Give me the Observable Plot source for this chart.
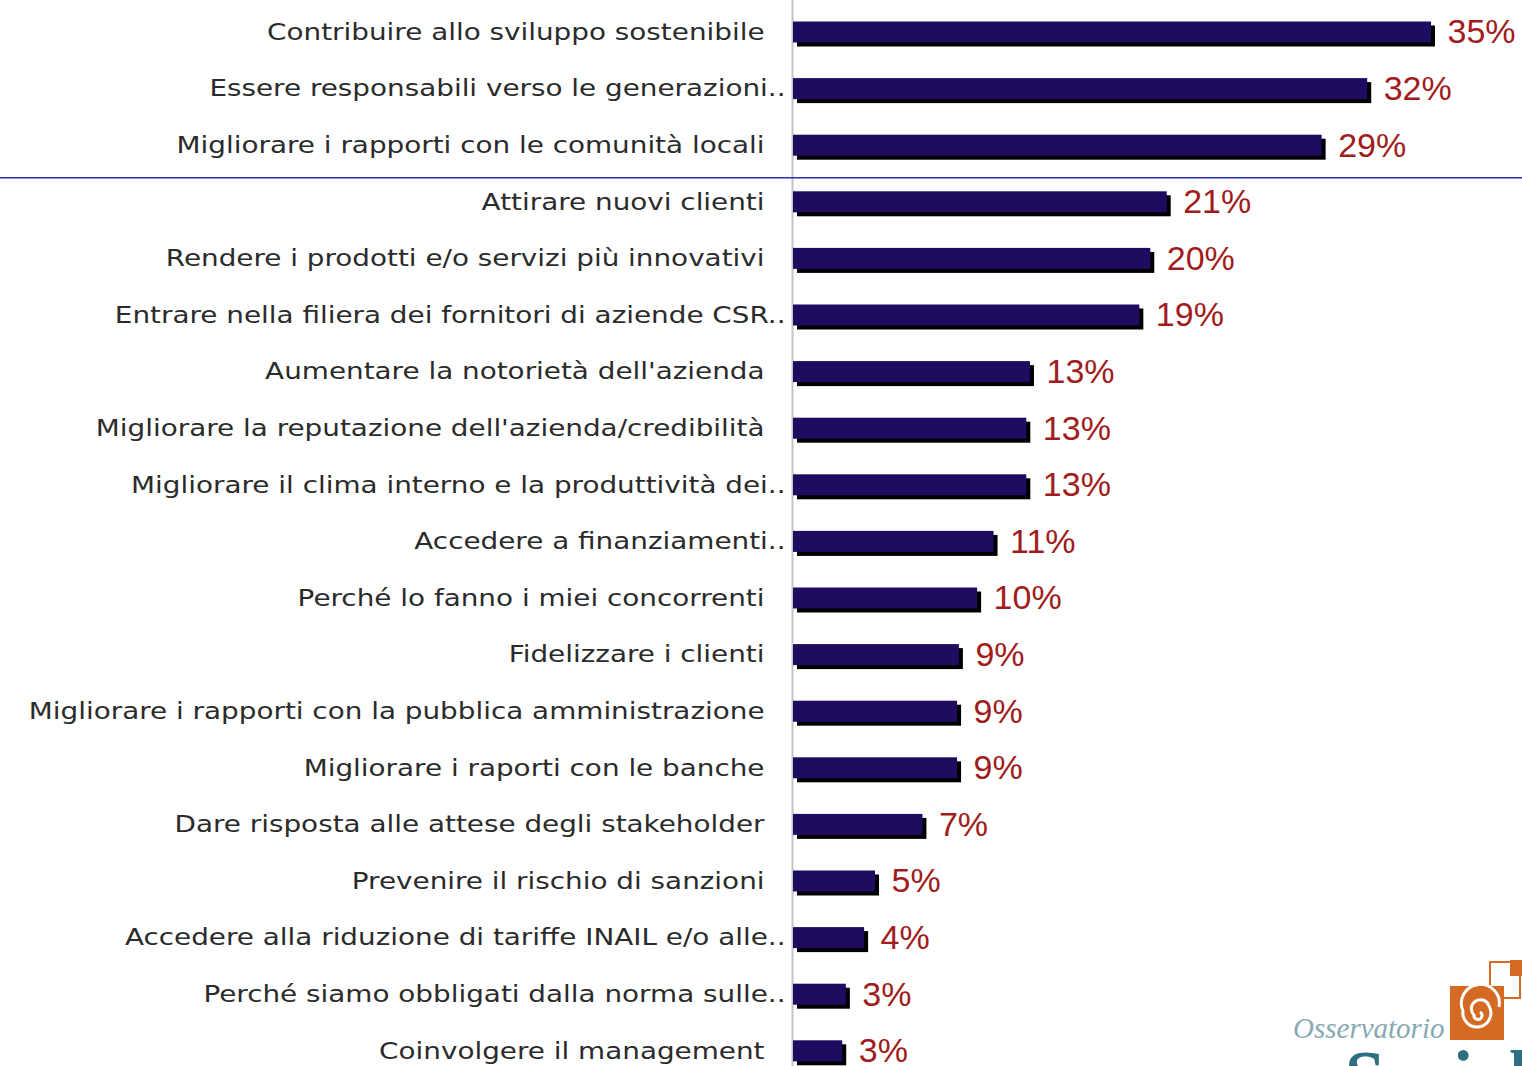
<!DOCTYPE html>
<html>
<head>
<meta charset="utf-8">
<script src="https://cdn.jsdelivr.net/npm/d3@7"></script>
<script src="https://cdn.jsdelivr.net/npm/@observablehq/plot@0.6"></script>
<style>
  html, body { margin: 0; padding: 0; background: #fff; overflow: hidden; }
  #wrap { position: relative; width: 1522px; height: 1066px; overflow: hidden; }
  #logo { position: absolute; left: 0; top: 0; pointer-events: none; }
</style>
</head>
<body>
<div id="wrap">
  <div id="chart"></div>
  <svg id="logo" width="1522" height="1066" xmlns="http://www.w3.org/2000/svg">
    <text x="1293" y="1038" font-family="Liberation Serif, DejaVu Serif, serif" font-style="italic" font-size="29" fill="#86a9b3">Osservatorio</text>
    <rect x="1490" y="962" width="30" height="36" fill="none" stroke="#d56a24" stroke-width="2"/>
    <rect x="1510" y="960" width="14" height="16" fill="#d56a24"/>
    <rect x="1450" y="986" width="54" height="54" fill="#d56a24"/>
    <path d="M1480,1012 a4,4 0 1,1 -6,3 a9,9 0 1,1 15,-9 a14,14 0 1,1 -26,5 a19,19 0 1,1 36,-4" fill="none" stroke="#fff" stroke-width="3"/>
    <text x="1345" y="1100" font-family="Liberation Serif, DejaVu Serif, serif" font-weight="bold" font-size="72" fill="#2d6e80">Social</text>
  </svg>
</div>
<script>
const categories = [
  "Contribuire allo sviluppo sostenibile",
  "Essere responsabili verso le generazioni..",
  "Migliorare i rapporti con le comunità locali",
  "Attirare nuovi clienti",
  "Rendere i prodotti e/o servizi più innovativi",
  "Entrare nella filiera dei fornitori di aziende CSR..",
  "Aumentare la notorietà dell'azienda",
  "Migliorare la reputazione dell'azienda/credibilità",
  "Migliorare il clima interno e la produttività dei..",
  "Accedere a finanziamenti..",
  "Perché lo fanno i miei concorrenti",
  "Fidelizzare i clienti",
  "Migliorare i rapporti con la pubblica amministrazione",
  "Migliorare i raporti con le banche",
  "Dare risposta alle attese degli stakeholder",
  "Prevenire il rischio di sanzioni",
  "Accedere alla riduzione di tariffe INAIL e/o alle..",
  "Perché siamo obbligati dalla norma sulle..",
  "Coinvolgere il management"
];
const values = [35.0, 31.5, 29.0, 20.5, 19.6, 19.0, 13.0, 12.8, 12.8, 11.0, 10.1, 9.1, 9.0, 9.0, 7.1, 4.5, 3.9, 2.9, 2.7];
const valueLabels = ["35%", "32%", "29%", "21%", "20%", "19%", "13%", "13%", "13%", "11%", "10%", "9%", "9%", "9%", "7%", "5%", "4%", "3%", "3%"];

const data = categories.map((c, i) => ({label: c, value: values[i], pct: valueLabels[i], trunc: c.endsWith("..")}));

const step = 56.6;
const y0 = 32 - step / 2;
const inset = (step - 21) / 2;
const labelFont = "DejaVu Sans, sans-serif";

const chart = Plot.plot({
  width: 1522,
  height: 1066,
  margin: 0,
  x: {domain: [0, 35], range: [793, 1431], axis: null},
  y: {domain: categories, range: [y0, y0 + step * categories.length], padding: 0, round: false, axis: null},
  style: {background: "#fff"},
  marks: [
    Plot.ruleX([0], {stroke: "#c4c4c4", strokeWidth: 2, dx: -1}),
    Plot.ruleY([categories[3]], {stroke: "#2c2cb0", strokeWidth: 1.5, dy: -24.5}),
    Plot.barX(data, {x: "value", y: "label", fill: "#000", dx: 4, dy: 4, insetTop: inset, insetBottom: inset}),
    Plot.barX(data, {x: "value", y: "label", fill: "#1f0b60", insetTop: inset, insetBottom: inset}),
    Plot.text(data.filter(d => !d.trunc), {x: 0, y: "label", text: "label", textAnchor: "end", dx: -29, fill: "#2b2b2b", fontSize: 23, fontFamily: labelFont}),
    Plot.text(data.filter(d => d.trunc), {x: 0, y: "label", text: "label", textAnchor: "end", dx: -8, fill: "#2b2b2b", fontSize: 23, fontFamily: labelFont}),
    Plot.text(data, {x: "value", y: "label", text: "pct", textAnchor: "start", dx: 16, fill: "#a11c1c", fontSize: 34, fontFamily: "Liberation Sans, Arial, sans-serif"})
  ]
});
document.getElementById("chart").appendChild(chart);

// widen the label glyphs to mimic the wide geometric face of the original
const groups = chart.querySelectorAll('g[aria-label="text"]');
[groups[0], groups[1]].forEach(g => {
  g.querySelectorAll("text").forEach(t => {
    const len = t.getComputedTextLength();
    t.setAttribute("textLength", (len * 1.21).toFixed(1));
    t.setAttribute("lengthAdjust", "spacingAndGlyphs");
  });
});
</script>
</body>
</html>
